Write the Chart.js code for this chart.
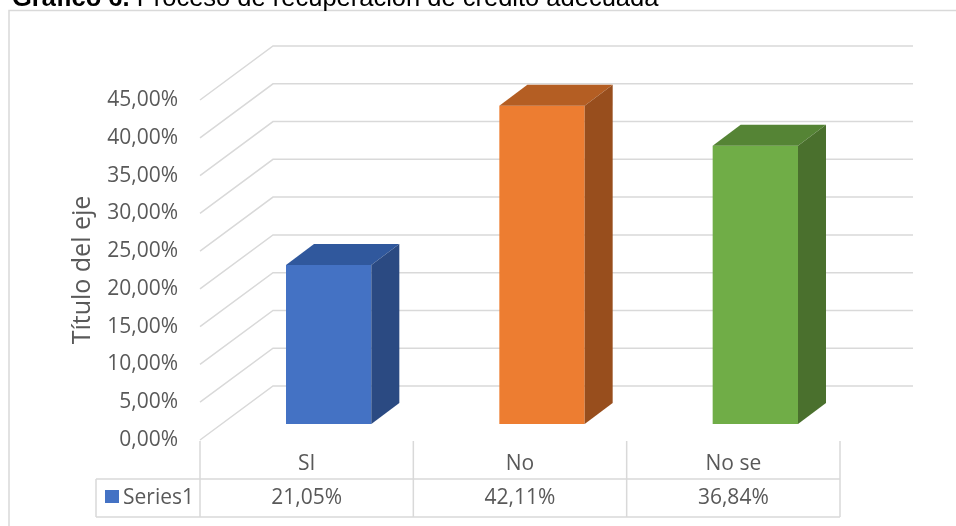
<!DOCTYPE html>
<html>
<head>
<meta charset="utf-8">
<script src="https://cdn.jsdelivr.net/npm/chart.js@4/dist/chart.umd.min.js"></script>
<style>
  html, body { margin: 0; padding: 0; background: #fff; overflow: hidden; }
  canvas { display: block; }
</style>
</head>
<body>
<canvas id="chart" width="956" height="526"></canvas>
<script>
// ---- data ----
const categories = ['SI', 'No', 'No se'];
const seriesName = 'Series1';
const values = [21.05, 42.11, 36.84];           // percent
const yMin = 0, yMax = 45, yStep = 5;            // percent tick range
const titleBold = 'Gráfico 6.';
const titleRest = ' Proceso de recuperación de crédito adecuada';
const axisTitle = 'Título del eje';

// ---- styling ----
const FONT = '"Open Sans", sans-serif';
const TEXT = '#595959';
const GRID = '#D9D9D9';
const frontColors = ['#4472C4', '#ED7D31', '#70AD47'];
const topColors   = ['#30589D', '#B45E23', '#558435'];
const sideColors  = ['#2B4A82', '#984E1D', '#4A702D'];

// oblique projection offsets
const WALL  = { dx: 73, dy: -54 };   // back wall relative to front plane
const SHIFT = { dx: 22, dy: -16 };   // bar front faces relative to front plane
const DEPTH = { dx: 28, dy: -21 };   // bar thickness

const fmt = v => v.toFixed(2).replace('.', ',') + '%';

const pseudo3d = {
  id: 'pseudo3d',
  beforeDatasetsDraw(chart) {
    const { ctx, chartArea, scales: { y } } = chart;
    ctx.save();
    ctx.strokeStyle = GRID;
    ctx.lineWidth = 1.5;
    y.ticks.forEach(t => {
      const py = y.getPixelForValue(t.value);
      ctx.beginPath();
      ctx.moveTo(chartArea.left, py);
      ctx.lineTo(chartArea.left + WALL.dx, py + WALL.dy);
      ctx.lineTo(chartArea.right + WALL.dx, py + WALL.dy);
      ctx.stroke();
    });
    ctx.restore();
  },
  beforeDatasetDraw(chart) {
    chart.ctx.save();
    chart.ctx.translate(SHIFT.dx, SHIFT.dy);
  },
  afterDatasetDraw(chart, args) {
    const ctx = chart.ctx;
    args.meta.data.forEach((bar, i) => {
      const { x, y, base, width } = bar.getProps(['x', 'y', 'base', 'width'], true);
      const l = x - width / 2, r = x + width / 2;
      ctx.fillStyle = topColors[i];
      ctx.beginPath();
      ctx.moveTo(l, y);
      ctx.lineTo(l + DEPTH.dx, y + DEPTH.dy);
      ctx.lineTo(r + DEPTH.dx, y + DEPTH.dy);
      ctx.lineTo(r, y);
      ctx.closePath();
      ctx.fill();
      ctx.fillStyle = sideColors[i];
      ctx.beginPath();
      ctx.moveTo(r, y);
      ctx.lineTo(r + DEPTH.dx, y + DEPTH.dy);
      ctx.lineTo(r + DEPTH.dx, base + DEPTH.dy);
      ctx.lineTo(r, base);
      ctx.closePath();
      ctx.fill();
    });
    ctx.restore();
  },
  afterDraw(chart) {
    const { ctx, chartArea, scales: { x } } = chart;
    ctx.save();

    // outer frame
    ctx.strokeStyle = GRID;
    ctx.lineWidth = 1.5;
    ctx.strokeRect(9, 10.5, 2000, 2000);

    // heading
    ctx.fillStyle = '#000';
    ctx.textBaseline = 'alphabetic';
    ctx.textAlign = 'left';
    ctx.font = 'bold 25.5px "Liberation Sans", Arial, sans-serif';
    ctx.fillText(titleBold, 12, 5.5);
    const w = ctx.measureText(titleBold).width;
    ctx.font = '25.5px "Liberation Sans", Arial, sans-serif';
    ctx.fillText(titleRest, 12 + w, 5.5);

    // data table
    const rowTop = 479, rowBottom = 517, tableTop = 441, legendLeft = 96;
    const n = categories.length;
    const colW = (chartArea.right - chartArea.left) / n;
    ctx.strokeStyle = GRID;
    ctx.lineWidth = 1.5;
    ctx.beginPath();
    ctx.moveTo(legendLeft, rowTop); ctx.lineTo(chartArea.right, rowTop);
    ctx.moveTo(legendLeft, rowBottom); ctx.lineTo(chartArea.right, rowBottom);
    ctx.moveTo(legendLeft, rowTop); ctx.lineTo(legendLeft, rowBottom);
    for (let i = 0; i <= n; i++) {
      const px = chartArea.left + i * colW;
      ctx.moveTo(px, tableTop); ctx.lineTo(px, rowBottom);
    }
    ctx.stroke();

    ctx.fillStyle = TEXT;
    ctx.font = '21px ' + FONT;
    ctx.textAlign = 'center';
    ctx.textBaseline = 'middle';
    categories.forEach((c, i) => {
      const px = x.getPixelForValue(i);
      ctx.fillText(c, px, 464);
      ctx.fillText(fmt(values[i]), px, 498);
    });
    // legend key
    ctx.fillStyle = frontColors[0];
    ctx.fillRect(105, 490, 14, 13);
    ctx.fillStyle = TEXT;
    ctx.textAlign = 'left';
    ctx.fillText(seriesName, 123, 498);
    ctx.restore();
  }
};

new Chart(document.getElementById('chart'), {
  type: 'bar',
  data: {
    labels: categories,
    datasets: [{
      label: seriesName,
      data: values,
      backgroundColor: frontColors,
      borderWidth: 0,
      barPercentage: 0.4,
      categoryPercentage: 1,
      clip: false
    }]
  },
  options: {
    responsive: false,
    animation: false,
    devicePixelRatio: 1,
    events: [],
    layout: { padding: { left: 64, right: 116, top: 100, bottom: 86 } },
    plugins: { legend: { display: false }, tooltip: { enabled: false }, title: { display: false } },
    scales: {
      x: { display: false, offset: true },
      y: {
        min: yMin, max: yMax,
        ticks: { stepSize: yStep, padding: 22, color: TEXT, font: { family: FONT, size: 21 }, callback: v => fmt(v) },
        grid: { display: false, drawTicks: false },
        border: { display: false },
        title: { display: true, text: axisTitle, color: TEXT, font: { family: FONT, size: 25 }, padding: { top: 4, bottom: 4 } },
        afterFit(s) { s.width = 136; }
      }
    }
  },
  plugins: [pseudo3d]
});
</script>
</body>
</html>
